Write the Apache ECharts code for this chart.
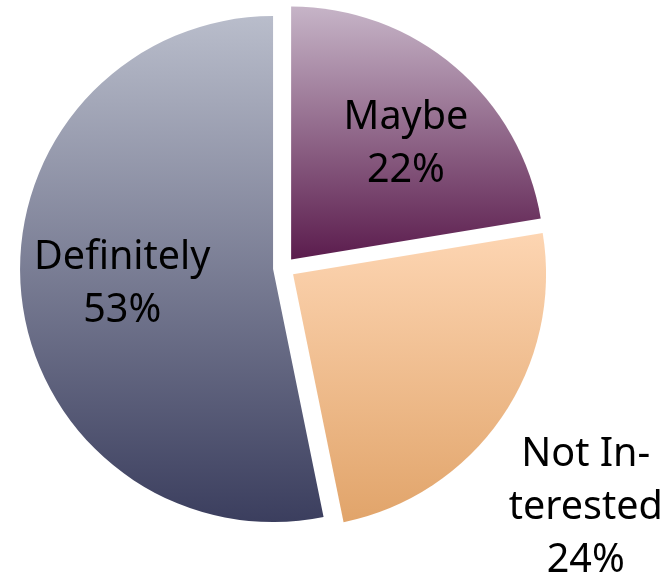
<!DOCTYPE html>
<html>
<head>
<meta charset="utf-8">
<script src="https://cdn.jsdelivr.net/npm/echarts@6/dist/echarts.min.js"></script>
<style>
html,body{margin:0;padding:0;background:#fff;}
#chart{width:669px;height:575px;}
</style>
</head>
<body>
<div id="chart"></div>
<script>
var categories = ['Maybe', 'Not Interested', 'Definitely'];
var labelTexts = ['Maybe', 'Not In-\nterested', 'Definitely'];
var values = [22.4, 24.4, 53.2];
var percentLabels = ['22%', '24%', '53%'];

var gradients = [
  ['#c6b4c7', '#5b1c4d'],
  ['#fdd5b2', '#e1a46a'],
  ['#b9bdcb', '#3b3e5e']
];
var labelShift = [
  [31, -17],
  [186, 160],
  [-22, 2]
];

var chart = echarts.init(document.getElementById('chart'), null, {renderer: 'canvas'});

var data = categories.map(function (c, i) {
  return {
    name: c,
    value: values[i],
    selected: true,
    itemStyle: {
      color: new echarts.graphic.LinearGradient(0, 0, 0, 1, [
        {offset: 0, color: gradients[i][0]},
        {offset: 1, color: gradients[i][1]}
      ])
    },
    label: {
      formatter: labelTexts[i] + '\n' + percentLabels[i]
    }
  };
});

chart.setOption({
  animation: false,
  series: [{
    type: 'pie',
    center: [284, 268],
    radius: [0, 253],
    startAngle: 90,
    clockwise: true,
    selectedMode: 'multiple',
    selectedOffset: 11,
    data: data,
    itemStyle: {borderWidth: 0},
    emphasis: {disabled: true},
    select: {disabled: false, itemStyle: {}},
    label: {
      show: true,
      position: 'inside',
      color: '#000',
      fontFamily: 'Noto Sans',
      fontSize: 39.5,
      lineHeight: 53,
      align: 'center'
    },
    labelLine: {show: false},
    labelLayout: function (p) {
      var s = labelShift[p.dataIndex];
      return {dx: s[0], dy: s[1]};
    }
  }]
});
</script>
</body>
</html>
